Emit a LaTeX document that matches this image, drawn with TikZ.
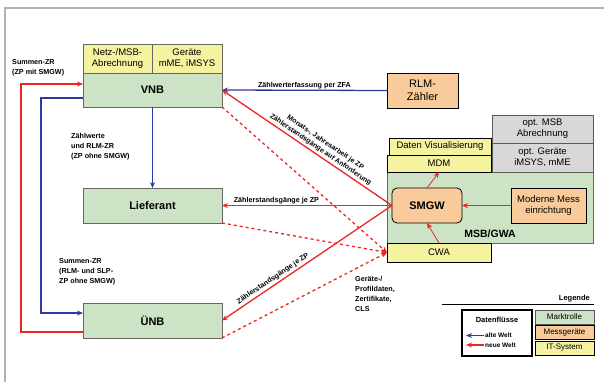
\documentclass[tikz,border=0pt]{standalone}
\usepackage{fontspec}
\setmainfont{Liberation Sans}
\usetikzlibrary{arrows.meta}
\definecolor{rolle}{RGB}{205,227,197}
\definecolor{geraet}{RGB}{249,202,154}
\definecolor{itsys}{RGB}{245,242,160}
\definecolor{optgray}{RGB}{216,216,216}
\definecolor{neu}{RGB}{236,38,38}
\definecolor{alt}{RGB}{46,58,158}
\tikzset{
  box/.style={draw=gray!80!black,line width=0.8pt,inner sep=1pt,outer sep=0pt,align=center,font=\fontsize{9.5}{11}\selectfont},
  rollebox/.style={box,fill=rolle,font=\fontsize{11}{12}\selectfont\bfseries},
  itbox/.style={box,fill=itsys,draw=black},
  geraetbox/.style={box,fill=geraet,draw=black},
  optbox/.style={box,fill=optgray,draw=gray!70!black},
  lbl/.style={font=\fontsize{7.2}{10}\selectfont\bfseries,align=left,inner sep=1pt},
  altline/.style={draw=alt,line width=1.3pt},
  neuline/.style={draw=neu,line width=1.3pt},
  >={Stealth[length=6pt,width=5pt]}
}
\begin{document}
\begin{tikzpicture}[x=1pt,y=-1pt]
\useasboundingbox (0,0) rectangle (604,382);
\draw[gray!60,line width=1.5pt](5,400)--(5,8)--(620,8);
\node[box,fill=itsys,minimum width=69,minimum height=29](abr) at (117.5,58.5){Netz-/MSB-\\Abrechnung};
\node[box,fill=itsys,minimum width=70,minimum height=29](ger) at (187,58.5){Geräte\\mME, iMSYS};
\node[rollebox,minimum width=139,minimum height=34](vnb) at (152.5,90){VNB};
\node[rollebox,minimum width=139,minimum height=35](lief) at (152.5,205.5){Lieferant};
\node[rollebox,minimum width=139,minimum height=35](unb) at (152.5,320.5){ÜNB};
\node[geraetbox,minimum width=71,minimum height=35,font=\fontsize{11}{13}\selectfont](rlm) at (422.5,90.5){RLM-\\Zähler};
\node[box,fill=rolle,minimum width=206,minimum height=71](msb) at (490,207.5){};
\node[font=\fontsize{10.5}{12}\selectfont\bfseries](msbl) at (490,234){MSB/GWA};
\node[optbox,minimum width=101,minimum height=28](optabr) at (542.5,129){opt. MSB\\Abrechnung};
\node[optbox,minimum width=101,minimum height=29](optger) at (542.5,157.5){opt. Geräte\\iMSYS, mME};
\node[itbox,minimum width=102,minimum height=17](vis) at (440,146.5){Daten Visualisierung};
\node[itbox,minimum width=104,minimum height=17](mdm) at (439,163.5){MDM};
\node[itbox,minimum width=104,minimum height=19](cwa) at (439,252.5){CWA};
\node[geraetbox,rounded corners=5pt,minimum width=70,minimum height=35,font=\fontsize{11}{12}\selectfont\bfseries](smgw) at (427,205.5){SMGW};
\node[geraetbox,minimum width=75,minimum height=35](mme) at (548.5,205.5){Moderne Mess\\einrichtung};
\draw[neuline,line width=0.8pt,->](mme.west)--(smgw.east);
\draw[neuline,line width=0.8pt,->](smgw.north)--(mdm.south);
\draw[neuline,line width=0.8pt,->](cwa.north)--(smgw.south);
\draw[altline,->](rlm.west)--(vnb.east)node[lbl,midway,above]{Zählwerterfassung per ZFA};
\draw[altline,->](vnb.south)--(lief.north);
\draw[altline,->]([yshift=-8pt]vnb.west)--++(-42,0)|-([yshift=7.5pt]unb.west);
\draw[neuline,->]([yshift=-11.5pt]unb.west)--++(-62,0)|-([yshift=6pt]vnb.west);
\draw[neuline,->](smgw.west)--(lief.east)node[lbl,pos=0.68,above]{Zählerstandsgänge je ZP};
\draw[neuline,<-](vnb.east)--(smgw.west)node[lbl,pos=0.56,sloped,above,inner sep=2pt,align=center,font=\fontsize{7}{8.6}\selectfont\bfseries]{Monats-, Jahresarbeit je ZP\\Zählerstandsgänge auf Anforderung};
\draw[neuline,<-](unb.east)--(smgw.west)node[lbl,pos=0.32,sloped,above,inner sep=2pt]{Zählerstandsgänge je ZP};
\draw[neuline,dashed,->](vnb.south east)--(cwa.west);
\draw[neuline,dashed,->](lief.south east)--(cwa.west);
\draw[neuline,dashed,->](unb.south east)--(cwa.west);
\node[lbl,anchor=north west](zrvnb) at (11,58){Summen-ZR\\(ZP mit SMGW)};
\node[lbl,anchor=north west](zrlief) at (70,132){Zählwerte\\und RLM-ZR\\(ZP ohne SMGW)};
\node[lbl,anchor=north west](zrunb) at (58,257){Summen-ZR\\(RLM- und SLP-\\ZP ohne SMGW)};
\node[lbl,anchor=north west](gwa) at (354,275){Geräte-/\\Profildaten,\\Zertifikate,\\CLS};
\node[lbl,anchor=south east,font=\fontsize{7.5}{8}\selectfont\bfseries](leg) at (591,303){Legende};
\draw[line width=1pt](442,304)--(594,304);
\node[draw,line width=1.2pt,minimum width=70,minimum height=46](datenf) at (497,333){};
\node[lbl,font=\fontsize{7.5}{8}\selectfont\bfseries](datenfl) at (497,320){Datenflüsse};
\node[lbl,anchor=west,font=\fontsize{6.5}{8}\selectfont\bfseries](altw) at (484,335.5){alte Welt};
\node[lbl,anchor=west,font=\fontsize{6.5}{8}\selectfont\bfseries](neuw) at (484,345){neue Welt};
\draw[altline,line width=1.5pt,->](altw.west)--++(-18,0);
\draw[neuline,line width=1.5pt,->](neuw.west)--++(-18,0);
\node[box,fill=rolle,draw=gray!70!black,minimum width=59,minimum height=14,font=\fontsize{8}{9}\selectfont](lmark) at (564.5,317){Marktrolle};
\node[geraetbox,minimum width=59,minimum height=14,font=\fontsize{8}{9}\selectfont](lmess) at (564.5,332.5){Messgeräte};
\node[itbox,minimum width=59,minimum height=14,font=\fontsize{8}{9}\selectfont](lit) at (564.5,348){IT-System};
\end{tikzpicture}
\end{document}
